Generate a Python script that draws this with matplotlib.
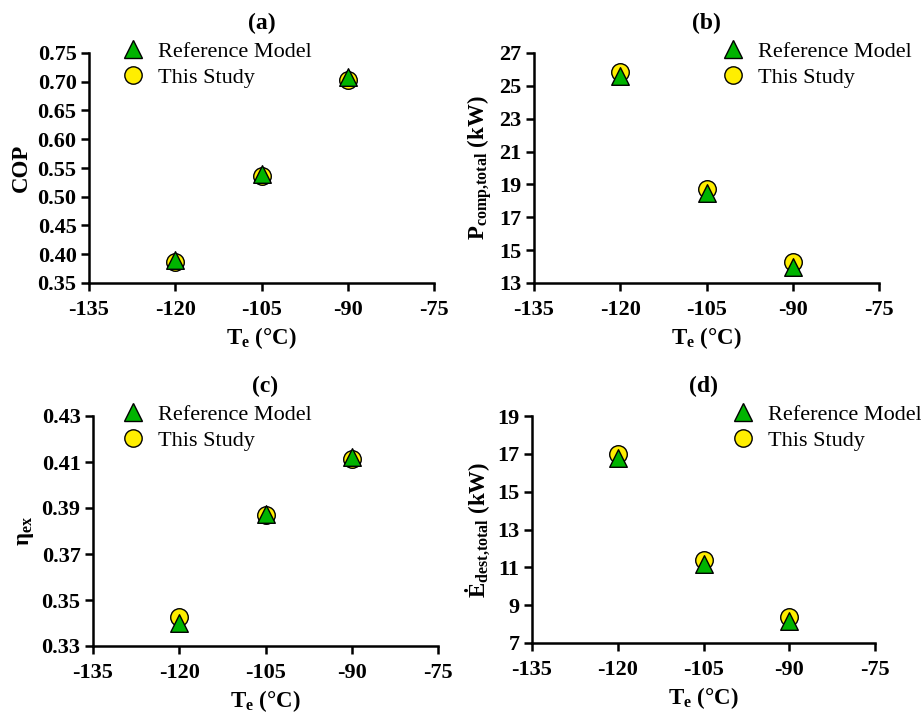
import matplotlib
matplotlib.use("Agg")
import matplotlib.pyplot as plt
from matplotlib.lines import Line2D

plt.rcParams['font.family'] = ['Liberation Serif', 'DejaVu Serif']
plt.rcParams['mathtext.fontset'] = 'custom'
plt.rcParams['mathtext.rm'] = 'Liberation Serif:bold'
plt.rcParams['mathtext.bf'] = 'Liberation Serif:bold'
plt.rcParams['mathtext.it'] = 'Liberation Serif:bold'

# Data
te = [-120, -105, -90]
cop_ref = [0.390, 0.540, 0.708]
cop_study = [0.387, 0.536, 0.703]
p_ref = [25.6, 18.46, 14.0]
p_study = [25.86, 18.7, 14.26]
eta_ref = [0.340, 0.3874, 0.412]
eta_study = [0.3427, 0.387, 0.4113]
ed_ref = [16.76, 11.2, 8.18]
ed_study = [17.0, 11.39, 8.36]

xticks = [-135, -120, -105, -90, -75]
cop_ticks = [0.35, 0.40, 0.45, 0.50, 0.55, 0.60, 0.65, 0.70, 0.75]
p_ticks = [13, 15, 17, 19, 21, 23, 25, 27]
eta_ticks = [0.33, 0.35, 0.37, 0.39, 0.41, 0.43]
ed_ticks = [7, 9, 11, 13, 15, 17, 19]

W, H = 921, 714
fig = plt.figure(figsize=(W / 100, H / 100), dpi=100)
fig.patch.set_facecolor('white')

def px_axes(l, r, t, b):
    return fig.add_axes([l / W, 1 - b / H, (r - l) / W, (b - t) / H])

panels = [
    dict(box=(89, 434, 53, 283), ref=cop_ref, st=cop_study, yt=cop_ticks, fmt='{:.2f}',
         ylabel='COP', title='(a)', leg=(122, 41)),
    dict(box=(534, 879, 53, 283), ref=p_ref, st=p_study, yt=p_ticks, fmt='{:d}',
         ylabel=r'P$_{\mathbf{comp{,}total}}$ (kW)', title='(b)', leg=(722, 41)),
    dict(box=(93, 438, 416, 646), ref=eta_ref, st=eta_study, yt=eta_ticks, fmt='{:.2f}',
         ylabel=r'η$_{\mathbf{ex}}$', title='(c)', leg=(122, 404)),
    dict(box=(532, 875, 416, 643), ref=ed_ref, st=ed_study, yt=ed_ticks, fmt='{:d}',
         ylabel=r'Ė$_{\mathbf{dest{,}total}}$ (kW)', title='(d)', leg=(732, 404)),
]

green = '#00B400'
yellow = '#FFEE00'

for p in panels:
    l, r, t, b = p['box']
    ax = px_axes(l, r, t, b)
    ax.scatter(te, p['st'], s=160, marker='o', facecolor=yellow, edgecolor='black',
               linewidth=1.0, zorder=3, clip_on=False)
    ax.scatter(te, p['ref'], s=160, marker='^', facecolor=green, edgecolor='black',
               linewidth=1.0, zorder=4, clip_on=False)
    ax.set_xlim(-135, -75)
    ax.set_ylim(p['yt'][0], p['yt'][-1])
    ax.set_xticks(xticks)
    ax.set_xticklabels([str(v) for v in xticks])
    ax.set_yticks(p['yt'])
    ax.set_yticklabels([p['fmt'].format(v) for v in p['yt']])
    for s in ['top', 'right']:
        ax.spines[s].set_visible(False)
    for s in ['left', 'bottom']:
        ax.spines[s].set_linewidth(1.8)
    ax.tick_params(axis='both', which='major', direction='out', length=6, width=1.8,
                   labelsize=16, pad=3)
    ax.tick_params(axis='x', pad=6)
    for lab in ax.get_xticklabels() + ax.get_yticklabels():
        lab.set_fontweight('bold')
    ax.set_xlabel(r'T$_{\mathbf{e}}$ (°C)', fontsize=16.5, fontweight='bold', labelpad=4)
    ax.set_ylabel(p['ylabel'], fontsize=16.5, fontweight='bold', labelpad=4)
    ax.set_title(p['title'], fontsize=17, fontweight='bold', pad=17)
    handles = [
        Line2D([], [], linestyle='none', marker='^', markersize=13, markerfacecolor=green,
               markeredgecolor='black', markeredgewidth=1.0),
        Line2D([], [], linestyle='none', marker='o', markersize=12.5, markerfacecolor=yellow,
               markeredgecolor='black', markeredgewidth=1.0),
    ]
    lx, ly = p['leg']
    ax.legend(handles, ['Reference Model', 'This Study'], loc='upper left',
              bbox_to_anchor=(lx / W, 1 - ly / H), bbox_transform=fig.transFigure,
              frameon=False, fontsize=16, borderpad=0, borderaxespad=0,
              handlelength=1.0, handletextpad=0.6, labelspacing=0.25)

fig.savefig('out.png', dpi=100, facecolor='white')
